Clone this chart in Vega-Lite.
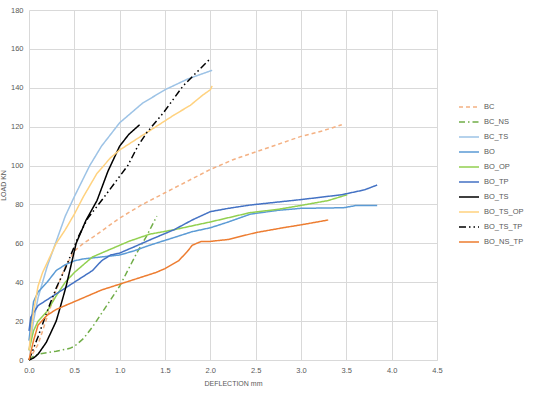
{
  "$schema": "https://vega.github.io/schema/vega-lite/v6.json",
  "autosize": {"type": "none"},
  "padding": {"left": 29, "top": 10, "right": 113, "bottom": 45},
  "width": 408,
  "height": 350,
  "background": "white",
  "config": {
    "font": "Liberation Sans",
    "view": {"stroke": null},
    "axis": {"labelColor": "#595959", "titleColor": "#595959", "labelFontSize": 7.5, "titleFontSize": 7, "titleFontWeight": "normal", "gridColor": "#D9D9D9", "domainColor": "#D9D9D9", "ticks": false}
  },
  "data": {"values": [
    {"s": "BC", "x": 0, "y": 0}, {"s": "BC", "x": 0.1, "y": 8}, {"s": "BC", "x": 0.2, "y": 22}, {"s": "BC", "x": 0.3, "y": 36},
    {"s": "BC", "x": 0.4, "y": 48}, {"s": "BC", "x": 0.5, "y": 56}, {"s": "BC", "x": 0.6, "y": 60}, {"s": "BC", "x": 0.7, "y": 63},
    {"s": "BC", "x": 0.85, "y": 68}, {"s": "BC", "x": 1.0, "y": 73}, {"s": "BC", "x": 1.25, "y": 80}, {"s": "BC", "x": 1.5, "y": 86},
    {"s": "BC", "x": 1.75, "y": 92}, {"s": "BC", "x": 2.0, "y": 98}, {"s": "BC", "x": 2.25, "y": 103}, {"s": "BC", "x": 2.5, "y": 107},
    {"s": "BC", "x": 2.75, "y": 111}, {"s": "BC", "x": 3.0, "y": 115}, {"s": "BC", "x": 3.25, "y": 118}, {"s": "BC", "x": 3.45, "y": 121},

    {"s": "BC_NS", "x": 0, "y": 0}, {"s": "BC_NS", "x": 0.05, "y": 2}, {"s": "BC_NS", "x": 0.1, "y": 3}, {"s": "BC_NS", "x": 0.3, "y": 4.5},
    {"s": "BC_NS", "x": 0.45, "y": 6}, {"s": "BC_NS", "x": 0.5, "y": 7}, {"s": "BC_NS", "x": 0.6, "y": 11}, {"s": "BC_NS", "x": 0.7, "y": 17},
    {"s": "BC_NS", "x": 0.8, "y": 24}, {"s": "BC_NS", "x": 0.9, "y": 31}, {"s": "BC_NS", "x": 1.0, "y": 38}, {"s": "BC_NS", "x": 1.1, "y": 47},
    {"s": "BC_NS", "x": 1.2, "y": 56}, {"s": "BC_NS", "x": 1.3, "y": 64}, {"s": "BC_NS", "x": 1.41, "y": 74},

    {"s": "BC_TS", "x": 0, "y": 5}, {"s": "BC_TS", "x": 0.05, "y": 20}, {"s": "BC_TS", "x": 0.1, "y": 32}, {"s": "BC_TS", "x": 0.15, "y": 40},
    {"s": "BC_TS", "x": 0.2, "y": 48}, {"s": "BC_TS", "x": 0.3, "y": 61}, {"s": "BC_TS", "x": 0.4, "y": 74}, {"s": "BC_TS", "x": 0.5, "y": 84},
    {"s": "BC_TS", "x": 0.67, "y": 100}, {"s": "BC_TS", "x": 0.8, "y": 110}, {"s": "BC_TS", "x": 1.0, "y": 122}, {"s": "BC_TS", "x": 1.25, "y": 132},
    {"s": "BC_TS", "x": 1.5, "y": 139}, {"s": "BC_TS", "x": 1.75, "y": 144.5}, {"s": "BC_TS", "x": 2.02, "y": 149},

    {"s": "BO", "x": 0, "y": 10}, {"s": "BO", "x": 0.05, "y": 30}, {"s": "BO", "x": 0.1, "y": 35}, {"s": "BO", "x": 0.2, "y": 40},
    {"s": "BO", "x": 0.3, "y": 46}, {"s": "BO", "x": 0.4, "y": 49}, {"s": "BO", "x": 0.5, "y": 51}, {"s": "BO", "x": 0.6, "y": 52},
    {"s": "BO", "x": 0.8, "y": 53}, {"s": "BO", "x": 1.0, "y": 54}, {"s": "BO", "x": 1.15, "y": 56}, {"s": "BO", "x": 1.33, "y": 59},
    {"s": "BO", "x": 1.6, "y": 63}, {"s": "BO", "x": 1.8, "y": 66}, {"s": "BO", "x": 2.0, "y": 68}, {"s": "BO", "x": 2.2, "y": 71},
    {"s": "BO", "x": 2.44, "y": 75}, {"s": "BO", "x": 2.75, "y": 77}, {"s": "BO", "x": 3.0, "y": 78}, {"s": "BO", "x": 3.47, "y": 78.3},
    {"s": "BO", "x": 3.6, "y": 79.4}, {"s": "BO", "x": 3.84, "y": 79.4},

    {"s": "BO_OP", "x": 0, "y": 5}, {"s": "BO_OP", "x": 0.05, "y": 15}, {"s": "BO_OP", "x": 0.1, "y": 20}, {"s": "BO_OP", "x": 0.2, "y": 25},
    {"s": "BO_OP", "x": 0.3, "y": 33}, {"s": "BO_OP", "x": 0.4, "y": 40}, {"s": "BO_OP", "x": 0.5, "y": 45}, {"s": "BO_OP", "x": 0.6, "y": 49},
    {"s": "BO_OP", "x": 0.7, "y": 53}, {"s": "BO_OP", "x": 0.8, "y": 55}, {"s": "BO_OP", "x": 1.0, "y": 59}, {"s": "BO_OP", "x": 1.1, "y": 61},
    {"s": "BO_OP", "x": 1.33, "y": 64.7}, {"s": "BO_OP", "x": 1.6, "y": 67}, {"s": "BO_OP", "x": 2.0, "y": 71}, {"s": "BO_OP", "x": 2.44, "y": 75.8},
    {"s": "BO_OP", "x": 2.75, "y": 77.5}, {"s": "BO_OP", "x": 3.0, "y": 79.5}, {"s": "BO_OP", "x": 3.3, "y": 82}, {"s": "BO_OP", "x": 3.51, "y": 85},

    {"s": "BO_TP", "x": 0, "y": 15}, {"s": "BO_TP", "x": 0.02, "y": 22}, {"s": "BO_TP", "x": 0.1, "y": 28}, {"s": "BO_TP", "x": 0.2, "y": 31},
    {"s": "BO_TP", "x": 0.3, "y": 34}, {"s": "BO_TP", "x": 0.4, "y": 37}, {"s": "BO_TP", "x": 0.5, "y": 40}, {"s": "BO_TP", "x": 0.6, "y": 43},
    {"s": "BO_TP", "x": 0.7, "y": 46}, {"s": "BO_TP", "x": 0.8, "y": 51}, {"s": "BO_TP", "x": 0.9, "y": 54}, {"s": "BO_TP", "x": 1.0, "y": 55},
    {"s": "BO_TP", "x": 1.15, "y": 58}, {"s": "BO_TP", "x": 1.33, "y": 61.7}, {"s": "BO_TP", "x": 1.6, "y": 67}, {"s": "BO_TP", "x": 1.8, "y": 72},
    {"s": "BO_TP", "x": 2.0, "y": 76.3}, {"s": "BO_TP", "x": 2.2, "y": 78}, {"s": "BO_TP", "x": 2.44, "y": 79.7}, {"s": "BO_TP", "x": 3.0, "y": 82.5},
    {"s": "BO_TP", "x": 3.45, "y": 85}, {"s": "BO_TP", "x": 3.7, "y": 87.5}, {"s": "BO_TP", "x": 3.84, "y": 90},

    {"s": "BO_TS", "x": 0, "y": 0}, {"s": "BO_TS", "x": 0.05, "y": 1}, {"s": "BO_TS", "x": 0.1, "y": 3}, {"s": "BO_TS", "x": 0.19, "y": 9},
    {"s": "BO_TS", "x": 0.3, "y": 20}, {"s": "BO_TS", "x": 0.35, "y": 28}, {"s": "BO_TS", "x": 0.41, "y": 38}, {"s": "BO_TS", "x": 0.52, "y": 60},
    {"s": "BO_TS", "x": 0.63, "y": 72}, {"s": "BO_TS", "x": 0.75, "y": 82}, {"s": "BO_TS", "x": 0.87, "y": 97}, {"s": "BO_TS", "x": 1.0, "y": 110},
    {"s": "BO_TS", "x": 1.1, "y": 116}, {"s": "BO_TS", "x": 1.22, "y": 121},

    {"s": "BO_TS_OP", "x": 0, "y": 5}, {"s": "BO_TS_OP", "x": 0.05, "y": 25}, {"s": "BO_TS_OP", "x": 0.1, "y": 38}, {"s": "BO_TS_OP", "x": 0.15, "y": 45},
    {"s": "BO_TS_OP", "x": 0.2, "y": 50}, {"s": "BO_TS_OP", "x": 0.3, "y": 60}, {"s": "BO_TS_OP", "x": 0.4, "y": 67}, {"s": "BO_TS_OP", "x": 0.5, "y": 75},
    {"s": "BO_TS_OP", "x": 0.6, "y": 84}, {"s": "BO_TS_OP", "x": 0.75, "y": 96}, {"s": "BO_TS_OP", "x": 0.9, "y": 104}, {"s": "BO_TS_OP", "x": 1.0, "y": 108},
    {"s": "BO_TS_OP", "x": 1.2, "y": 114}, {"s": "BO_TS_OP", "x": 1.4, "y": 120}, {"s": "BO_TS_OP", "x": 1.6, "y": 126}, {"s": "BO_TS_OP", "x": 1.78, "y": 131},
    {"s": "BO_TS_OP", "x": 1.91, "y": 136}, {"s": "BO_TS_OP", "x": 2.0, "y": 139}, {"s": "BO_TS_OP", "x": 2.02, "y": 141},

    {"s": "BO_TS_TP", "x": 0, "y": 0}, {"s": "BO_TS_TP", "x": 0.1, "y": 12}, {"s": "BO_TS_TP", "x": 0.2, "y": 25}, {"s": "BO_TS_TP", "x": 0.3, "y": 37},
    {"s": "BO_TS_TP", "x": 0.4, "y": 47}, {"s": "BO_TS_TP", "x": 0.54, "y": 63}, {"s": "BO_TS_TP", "x": 0.65, "y": 73}, {"s": "BO_TS_TP", "x": 0.8, "y": 82},
    {"s": "BO_TS_TP", "x": 0.97, "y": 92.6}, {"s": "BO_TS_TP", "x": 1.09, "y": 100}, {"s": "BO_TS_TP", "x": 1.2, "y": 110}, {"s": "BO_TS_TP", "x": 1.3, "y": 117},
    {"s": "BO_TS_TP", "x": 1.48, "y": 127}, {"s": "BO_TS_TP", "x": 1.7, "y": 141}, {"s": "BO_TS_TP", "x": 1.85, "y": 148}, {"s": "BO_TS_TP", "x": 2.0, "y": 155},

    {"s": "BO_NS_TP", "x": 0, "y": 0}, {"s": "BO_NS_TP", "x": 0.05, "y": 10}, {"s": "BO_NS_TP", "x": 0.1, "y": 18}, {"s": "BO_NS_TP", "x": 0.2, "y": 23},
    {"s": "BO_NS_TP", "x": 0.3, "y": 26}, {"s": "BO_NS_TP", "x": 0.4, "y": 28}, {"s": "BO_NS_TP", "x": 0.5, "y": 30}, {"s": "BO_NS_TP", "x": 0.6, "y": 32},
    {"s": "BO_NS_TP", "x": 0.8, "y": 36}, {"s": "BO_NS_TP", "x": 1.0, "y": 39}, {"s": "BO_NS_TP", "x": 1.2, "y": 42}, {"s": "BO_NS_TP", "x": 1.4, "y": 45},
    {"s": "BO_NS_TP", "x": 1.5, "y": 47}, {"s": "BO_NS_TP", "x": 1.65, "y": 51}, {"s": "BO_NS_TP", "x": 1.75, "y": 56}, {"s": "BO_NS_TP", "x": 1.8, "y": 59},
    {"s": "BO_NS_TP", "x": 1.9, "y": 61}, {"s": "BO_NS_TP", "x": 2.0, "y": 61}, {"s": "BO_NS_TP", "x": 2.2, "y": 62}, {"s": "BO_NS_TP", "x": 2.5, "y": 65.5},
    {"s": "BO_NS_TP", "x": 2.8, "y": 68}, {"s": "BO_NS_TP", "x": 3.0, "y": 69.5}, {"s": "BO_NS_TP", "x": 3.3, "y": 72}
  ]},
  "mark": {"type": "line", "strokeWidth": 1.5},
  "encoding": {
    "x": {"field": "x", "type": "quantitative", "title": "DEFLECTION mm",
      "scale": {"domain": [0, 4.5], "nice": false},
      "axis": {"values": [0, 0.5, 1, 1.5, 2, 2.5, 3, 3.5, 4, 4.5], "labelFlush": false, "titlePadding": 6, "labelPadding": 6}},
    "y": {"field": "y", "type": "quantitative", "title": "LOAD KN",
      "scale": {"domain": [0, 180], "nice": false},
      "axis": {"values": [0, 20, 40, 60, 80, 100, 120, 140, 160, 180], "domain": false, "labelPadding": 6, "titlePadding": 4}},
    "color": {"field": "s", "type": "nominal", "title": null,
      "scale": {
        "domain": ["BC", "BC_NS", "BC_TS", "BO", "BO_OP", "BO_TP", "BO_TS", "BO_TS_OP", "BO_TS_TP", "BO_NS_TP"],
        "range": ["#F4B183", "#70AD47", "#9DC3E6", "#5B9BD5", "#92D050", "#4472C4", "#000000", "#FFD27F", "#000000", "#ED7D31"]
      },
      "legend": {"orient": "none", "legendX": 429, "legendY": 86, "symbolType": "stroke", "symbolSize": 400,
        "symbolStrokeWidth": 1.5, "labelFontSize": 7.5, "labelColor": "#595959", "rowPadding": -6.6, "labelOffset": 4}},
    "strokeDash": {"field": "s", "type": "nominal",
      "scale": {
        "domain": ["BC", "BC_NS", "BC_TS", "BO", "BO_OP", "BO_TP", "BO_TS", "BO_TS_OP", "BO_TS_TP", "BO_NS_TP"],
        "range": [[4, 3], [6, 3, 1.5, 3], [1, 0], [1, 0], [1, 0], [1, 0], [1, 0], [1, 0], [7, 3, 1.5, 3, 1.5, 3], [1, 0]]
      }}
  }
}
